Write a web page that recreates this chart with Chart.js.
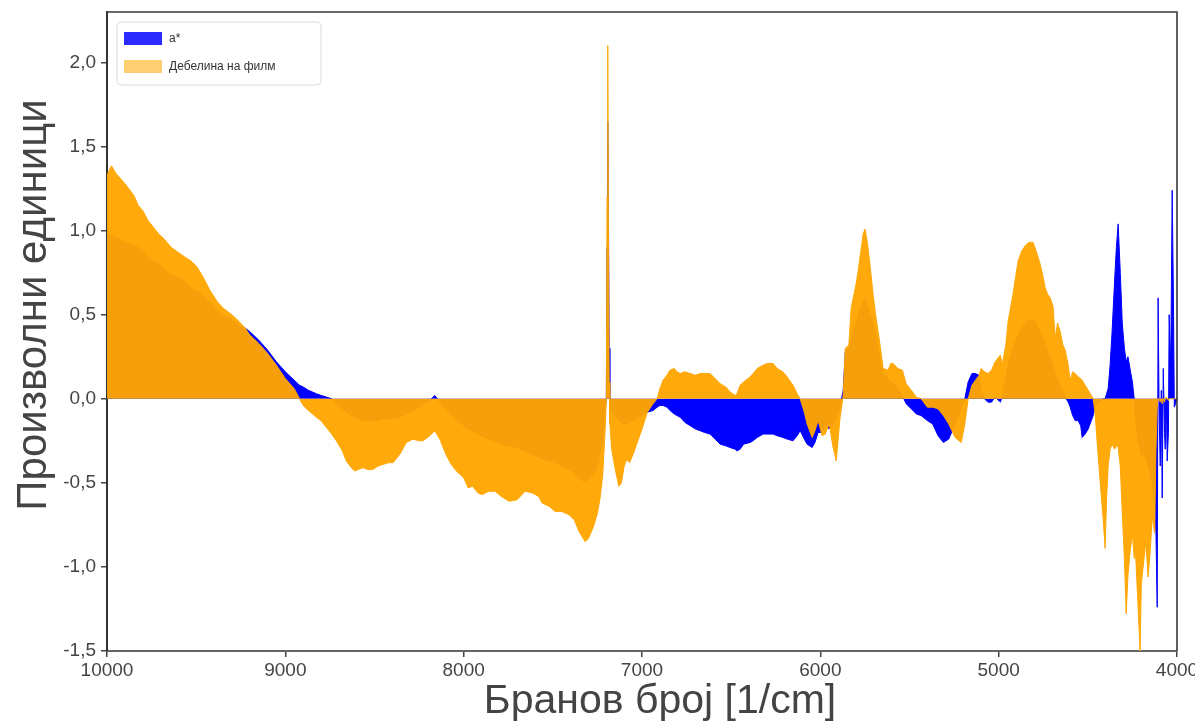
<!DOCTYPE html>
<html>
<head>
<meta charset="utf-8">
<script src="https://cdn.jsdelivr.net/npm/chart.js@4.4.1/dist/chart.umd.min.js"></script>
<style>
  html, body { margin: 0; padding: 0; background: #ffffff; }
  #wrap { width: 1195px; height: 724px; }
</style>
</head>
<body>
<div id="wrap"><canvas id="c" width="1195" height="724"></canvas></div>
<script>
// ---- data ----
const wavenumbers = [
  // 10000 - 9000
  10000, 9975, 9950, 9900, 9850, 9825, 9800, 9770, 9740, 9710, 9680, 9640, 9600, 9560, 9530, 9500, 9470, 9450, 9420, 9380, 9350, 9300, 9260, 9225, 9200, 9150, 9100, 9050, 9000,
  // 9000 - 8000
  8950, 8920, 8900, 8870, 8826, 8800, 8770, 8740, 8714, 8680, 8658, 8630, 8611, 8590, 8564, 8540, 8508, 8480, 8452, 8420, 8396, 8358, 8321, 8284, 8250, 8228, 8190, 8162, 8134, 8100, 8070, 8041, 8000,
  // 8000 - 7200
  7975, 7950, 7920, 7897, 7860, 7824, 7790, 7745, 7700, 7656, 7616, 7580, 7560, 7520, 7487, 7450, 7409, 7380, 7353, 7330, 7319, 7300, 7280, 7269, 7250, 7235, 7220, 7207,
  // spike
  7200, 7196, 7192, 7188, 7184, 7180, 7170,
  // 7170 - 6000
  7150, 7130, 7115, 7100, 7085, 7070, 7050, 7030, 7000, 6970, 6938, 6915, 6900, 6882, 6860, 6843, 6820, 6803, 6786, 6760, 6730, 6700, 6674, 6650, 6618, 6590, 6562, 6530, 6506, 6478, 6467, 6450, 6430, 6394, 6377, 6354, 6320, 6298, 6265, 6242, 6210, 6186, 6153, 6130, 6113, 6090, 6074, 6046, 6030, 6012,
  // 6000 - 5000
  5990, 5973, 5950, 5930, 5911, 5890, 5872, 5860, 5840, 5827, 5800, 5788, 5770, 5760, 5749, 5735, 5720, 5704, 5690, 5676, 5660, 5648, 5620, 5605, 5592, 5565, 5540, 5519, 5490, 5462, 5435, 5400, 5370, 5340, 5310, 5280, 5244, 5210, 5190, 5171, 5150, 5130, 5110, 5098, 5080, 5060, 5040, 5020,
  // 5000 - 4000
  4990, 4980, 4960, 4947, 4920, 4891, 4870, 4851, 4830, 4807, 4790, 4767, 4750, 4739, 4725, 4711, 4695, 4683, 4670, 4655, 4640, 4627, 4610, 4599, 4585, 4571, 4555, 4540, 4532, 4515, 4498, 4480, 4470, 4459, 4445, 4431, 4415, 4403, 4395, 4386, 4375, 4364, 4350, 4340, 4330, 4318, 4307, 4295, 4285, 4275, 4262, 4250, 4240, 4234, 4220, 4207, 4200, 4190, 4175, 4162, 4150, 4139, 4125, 4118, 4111, 4106, 4100, 4094, 4088, 4083, 4077, 4070, 4066, 4060, 4055, 4048, 4044, 4035, 4027, 4020, 4015, 4008, 4000
];

const aStar = [
  0.98, 0.97, 0.96, 0.93, 0.91, 0.90, 0.88, 0.85, 0.82, 0.80, 0.77, 0.74, 0.72, 0.69, 0.66, 0.64, 0.62, 0.60, 0.57, 0.53, 0.50, 0.47, 0.44, 0.42, 0.40, 0.35, 0.29, 0.22, 0.16,
  0.11, 0.08, 0.07, 0.05, 0.03, 0.02, 0.01, 0.0, -0.03, -0.06, -0.08, -0.10, -0.11, -0.12, -0.13, -0.13, -0.13, -0.13, -0.12, -0.12, -0.12, -0.11, -0.09, -0.07, -0.05, -0.03, -0.01, 0.02, -0.02, -0.06, -0.09, -0.12, -0.16,
  -0.18, -0.19, -0.21, -0.22, -0.24, -0.25, -0.27, -0.28, -0.29, -0.31, -0.33, -0.35, -0.36, -0.37, -0.38, -0.40, -0.42, -0.44, -0.47, -0.49, -0.49, -0.48, -0.46, -0.45, -0.40, -0.32, -0.25, -0.08,
  0.0, 0.9, 1.65, 1.05, 0.3, -0.05, -0.08,
  -0.10, -0.13, -0.14, -0.15, -0.15, -0.14, -0.13, -0.11, -0.10, -0.08, -0.07, -0.05, -0.04, -0.04, -0.05, -0.07, -0.09, -0.10, -0.11, -0.14, -0.16, -0.18, -0.19, -0.20, -0.21, -0.24, -0.27, -0.28, -0.29, -0.30, -0.31, -0.30, -0.27, -0.26, -0.25, -0.23, -0.21, -0.21, -0.21, -0.22, -0.23, -0.24, -0.25, -0.22, -0.19, -0.24, -0.27, -0.29, -0.26, -0.20,
  -0.20, -0.15, -0.18, -0.15, -0.12, -0.05, 0.05, 0.28, 0.30, 0.35, 0.45, 0.50, 0.56, 0.58, 0.60, 0.55, 0.50, 0.45, 0.38, 0.30, 0.20, 0.15, 0.12, 0.10, 0.10, 0.06, 0.02, -0.03, -0.06, -0.09, -0.10, -0.13, -0.15, -0.22, -0.26, -0.24, -0.15, -0.06, 0.0, 0.10, 0.15, 0.15, 0.14, 0.05, 0.0, -0.02, -0.02, 0.01,
  -0.02, 0.02, 0.12, 0.20, 0.30, 0.38, 0.42, 0.45, 0.47, 0.47, 0.45, 0.40, 0.36, 0.33, 0.28, 0.25, 0.20, 0.15, 0.12, 0.08, 0.04, 0.01, -0.02, -0.05, -0.10, -0.13, -0.13, -0.16, -0.23, -0.21, -0.18, -0.13, -0.10, -0.05, -0.03, -0.02, 0.0, 0.0, 0.03, 0.06, 0.20, 0.40, 0.70, 0.90, 1.04, 0.75, 0.45, 0.30, 0.22, 0.25, 0.17, 0.10, 0.0, -0.10, -0.25, -0.30, -0.35, -0.32, -0.35, -0.40, -0.45, -0.50, -0.60, -0.80, -1.24, 0.60, -0.10, -0.40, 0.05, -0.59, 0.18, -0.20, -0.30, 0.0, -0.37, -0.20, 0.50, 0.20, 1.24, 0.60, -0.05, -0.03, 0.0
];

const filmThickness = [
  1.33, 1.385, 1.34, 1.28, 1.21, 1.15, 1.12, 1.06, 1.02, 0.98, 0.95, 0.90, 0.87, 0.84, 0.82, 0.79, 0.74, 0.70, 0.64, 0.575, 0.54, 0.50, 0.46, 0.42, 0.38, 0.33, 0.27, 0.20, 0.12,
  0.06, 0.0, -0.04, -0.07, -0.11, -0.13, -0.17, -0.21, -0.25, -0.31, -0.37, -0.41, -0.43, -0.42, -0.41, -0.42, -0.42, -0.40, -0.39, -0.38, -0.38, -0.33, -0.26, -0.24, -0.25, -0.25, -0.22, -0.19, -0.24, -0.33, -0.39, -0.43, -0.47,
  -0.53, -0.52, -0.56, -0.57, -0.55, -0.55, -0.58, -0.61, -0.60, -0.55, -0.56, -0.58, -0.62, -0.64, -0.67, -0.67, -0.69, -0.72, -0.79, -0.83, -0.85, -0.83, -0.78, -0.75, -0.68, -0.59, -0.45, -0.19,
  0.0, 1.2, 2.1, 1.0, 0.1, -0.15, -0.30,
  -0.42, -0.52, -0.50, -0.40, -0.36, -0.38, -0.33, -0.27, -0.18, -0.08, -0.03, 0.0, 0.06, 0.11, 0.14, 0.17, 0.18, 0.16, 0.15, 0.16, 0.15, 0.14, 0.15, 0.15, 0.15, 0.12, 0.09, 0.07, 0.04, 0.02, 0.03, 0.08, 0.10, 0.13, 0.15, 0.18, 0.20, 0.21, 0.21, 0.18, 0.16, 0.13, 0.08, 0.03, 0.0, -0.08, -0.15, -0.23, -0.19, -0.13,
  -0.22, -0.21, -0.15, -0.28, -0.37, -0.12, 0.02, 0.30, 0.32, 0.54, 0.68, 0.76, 0.90, 0.98, 1.01, 0.92, 0.78, 0.62, 0.50, 0.40, 0.28, 0.18, 0.17, 0.21, 0.21, 0.18, 0.17, 0.09, 0.05, 0.01, 0.0, -0.05, -0.05, -0.06, -0.10, -0.15, -0.23, -0.26, -0.15, 0.0, 0.08, 0.11, 0.14, 0.18, 0.16, 0.15, 0.17, 0.22,
  0.26, 0.20, 0.32, 0.46, 0.62, 0.82, 0.88, 0.91, 0.93, 0.93, 0.88, 0.80, 0.72, 0.66, 0.62, 0.60, 0.55, 0.36, 0.45, 0.40, 0.32, 0.29, 0.20, 0.11, 0.16, 0.15, 0.13, 0.12, 0.11, 0.08, 0.05, 0.02, 0.0, -0.09, -0.30, -0.49, -0.70, -0.89, -0.60, -0.40, -0.30, -0.27, -0.30, -0.28, -0.29, -0.40, -0.68, -0.95, -1.28, -1.05, -0.90, -0.80, -0.95, -0.88, -1.20, -1.50, -1.10, -1.00, -0.85, -1.06, -0.90, -0.70, -0.80, -0.30, -0.05, 0.0, 0.0, -0.02, 0.0, -0.03, 0.0, -0.02, 0.0, 0.01, 0.0, -0.01, 0.0, 0.0, 0.0, 0.0, 0.0, 0.0, 0.0
];

const seriesLabels = ['a*', 'Дебелина на филм'];
const xTicks = [10000, 9000, 8000, 7000, 6000, 5000, 4000];
const yTicks = [-1.5, -1.0, -0.5, 0.0, 0.5, 1.0, 1.5, 2.0];
const xTitle = 'Бранов број [1/cm]';
const yTitle = 'Произволни единици';

// ---- styling ----
const FONT = "'Liberation Sans', Arial, sans-serif";
const BLUE = 'rgb(0,0,255)';
const ORANGE = 'rgba(255,165,0,0.96)';

const toPoints = vals => wavenumbers.map((w, i) => ({ x: w, y: vals[i] }));

const frameLegendTitles = {
  id: 'frameLegendTitles',
  afterDraw(chart) {
    const { ctx, chartArea: a } = chart;
    ctx.save();
    // top and right frame lines
    ctx.strokeStyle = '#3a3a3a';
    ctx.lineWidth = 1.6;
    ctx.beginPath();
    ctx.moveTo(a.left, a.top);
    ctx.lineTo(a.right, a.top);
    ctx.lineTo(a.right, a.bottom);
    ctx.stroke();

    // legend box
    const bx = a.left + 10, by = a.top + 10, bw = 204, bh = 63, r = 4;
    ctx.fillStyle = '#ffffff';
    ctx.strokeStyle = '#dcdcdc';
    ctx.lineWidth = 1;
    ctx.beginPath();
    ctx.moveTo(bx + r, by);
    ctx.lineTo(bx + bw - r, by);
    ctx.arcTo(bx + bw, by, bx + bw, by + r, r);
    ctx.lineTo(bx + bw, by + bh - r);
    ctx.arcTo(bx + bw, by + bh, bx + bw - r, by + bh, r);
    ctx.lineTo(bx + r, by + bh);
    ctx.arcTo(bx, by + bh, bx, by + bh - r, r);
    ctx.lineTo(bx, by + r);
    ctx.arcTo(bx, by, bx + r, by, r);
    ctx.closePath();
    ctx.fill();
    ctx.stroke();

    const swatches = ['rgba(20,20,255,0.9)', 'rgba(255,165,0,0.55)'];
    ctx.font = '12px ' + FONT;
    ctx.textBaseline = 'middle';
    ctx.textAlign = 'left';
    seriesLabels.forEach((lab, i) => {
      const sy = by + 10 + i * 28;
      ctx.fillStyle = swatches[i];
      ctx.fillRect(bx + 7, sy, 38, 13);
      ctx.fillStyle = '#333333';
      ctx.fillText(lab, bx + 52, sy + 7);
    });

    // axis titles
    ctx.fillStyle = '#444444';
    ctx.textAlign = 'center';
    ctx.textBaseline = 'alphabetic';
    ctx.font = '41px ' + FONT;
    ctx.fillText(xTitle, 660, 713);
    ctx.save();
    ctx.translate(46, 305);
    ctx.rotate(-Math.PI / 2);
    ctx.font = '42px ' + FONT;
    ctx.fillText(yTitle, 0, 0);
    ctx.restore();
    ctx.restore();
  }
};

new Chart(document.getElementById('c'), {
  type: 'line',
  data: {
    datasets: [
      {
        label: seriesLabels[0],
        data: toPoints(aStar),
        backgroundColor: BLUE,
        borderColor: BLUE,
        borderWidth: 1,
        fill: 'origin',
        pointRadius: 0,
        tension: 0,
        order: 2
      },
      {
        label: seriesLabels[1],
        data: toPoints(filmThickness),
        backgroundColor: ORANGE,
        borderColor: ORANGE,
        borderWidth: 1,
        fill: 'origin',
        pointRadius: 0,
        tension: 0,
        order: 1
      }
    ]
  },
  options: {
    responsive: false,
    animation: false,
    devicePixelRatio: 1,
    layout: { padding: { top: 12, right: 18, left: 0, bottom: 0 } },
    plugins: {
      legend: { display: false },
      tooltip: { enabled: false }
    },
    scales: {
      x: {
        type: 'linear',
        reverse: true,
        min: 4000,
        max: 10000,
        afterBuildTicks: s => { s.ticks = xTicks.map(v => ({ value: v })); },
        afterFit: s => { s.height = 73; s.paddingLeft = 0; s.paddingRight = 0; },
        ticks: {
          color: '#444',
          font: { size: 19, family: FONT },
          padding: 2,
          maxRotation: 0,
          autoSkip: false,
          callback: v => String(v)
        },
        grid: { display: true, drawOnChartArea: false, drawTicks: true, tickLength: 6, color: '#444', lineWidth: 1.5 },
        border: { display: true, color: '#666', width: 2 },
        title: { display: false }
      },
      y: {
        min: -1.5,
        max: 2.3,
        afterBuildTicks: s => { s.ticks = yTicks.map(v => ({ value: v })); },
        afterFit: s => { s.width = 107; s.paddingTop = 0; s.paddingBottom = 0; },
        ticks: {
          color: '#444',
          font: { size: 19, family: FONT },
          padding: 5,
          autoSkip: false,
          callback: v => Number(v).toFixed(1).replace('.', ',')
        },
        grid: { display: true, drawOnChartArea: false, drawTicks: true, tickLength: 6, color: '#444', lineWidth: 1.5 },
        border: { display: true, color: '#333', width: 2 },
        title: { display: false }
      }
    }
  },
  plugins: [frameLegendTitles]
});
</script>
</body>
</html>
